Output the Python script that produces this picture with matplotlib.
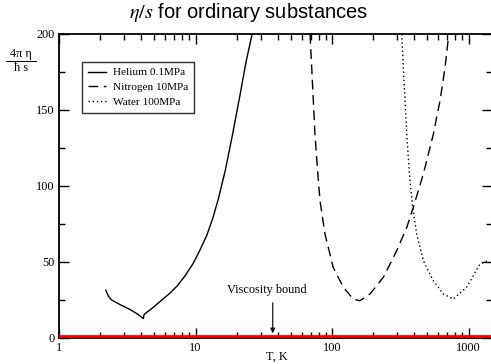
import numpy as np
import matplotlib.pyplot as plt
from matplotlib.lines import Line2D
from matplotlib.ticker import FixedLocator, MultipleLocator, NullFormatter

plt.rcParams['mathtext.fontset'] = 'stix'

# values
helium_T = [2.2, 2.3, 2.43, 2.8, 3.3, 3.8, 4.15, 4.2, 4.8, 5.5, 6.4, 7.3, 8.4, 9.6,
            10.8, 12.1, 13.4, 14.7, 16.5, 18.5, 21.0, 23.5, 26.0]
helium_r = [31.5, 27.5, 25, 22, 18.8, 15.5, 12.8, 15.5, 19.5, 24, 29, 34, 41, 49,
            58, 67.5, 79, 91.5, 110, 132, 158, 182, 200]

nitrogen_T = [69, 71, 73, 75, 78.1, 81.7, 88.8, 102, 121, 143, 160, 190, 238, 298,
              353, 394, 467, 552, 618, 673, 711]
nitrogen_r = [200, 178, 156, 134, 112, 90.3, 68.4, 46.5, 33.4, 25.6, 24.5, 29, 40, 57.5,
              72.8, 86, 108, 134, 156, 178, 197]

water_T = [324, 333, 343, 353, 369, 390, 417, 467, 552, 653, 774, 968, 1214, 1390]
water_r = [200, 178, 156, 134, 108, 86, 68.4, 50.9, 37.7, 29, 25.6, 33.4, 48.7, 51]

bound = 1.0

fig = plt.figure(figsize=(4.91, 3.64), dpi=100)
ax = fig.add_axes([59 / 491, 26 / 364, 433 / 491, 304 / 364])

serif = 'Liberation Serif'
fs = 8.8

ax.plot(helium_T, helium_r, color='black', lw=1.0, label='Helium 0.1MPa')
ax.plot(nitrogen_T, nitrogen_r, color='black', lw=1.0, dashes=(7, 4), label='Nitrogen 10MPa')
ax.plot(water_T, water_r, color='black', lw=1.0, linestyle=(0, (1, 2)), label='Water 100MPa')
ax.axhline(bound, color='red', lw=2.0, zorder=5)

ax.set_xscale('log')
ax.set_xlim(1, 1486)
ax.set_ylim(0, 200)

ax.xaxis.set_major_locator(FixedLocator([1, 10, 100, 1000]))
ax.set_xticklabels(['1', '10', '100', '1000'])
minors = [m * 10 ** e for e in range(0, 4) for m in range(2, 10)]
ax.xaxis.set_minor_locator(FixedLocator(minors))
ax.xaxis.set_minor_formatter(NullFormatter())
ax.yaxis.set_major_locator(MultipleLocator(50))
ax.yaxis.set_minor_locator(MultipleLocator(25))

ax.tick_params(which='both', direction='in', top=True, right=True, labelsize=fs, width=1.0)
ax.tick_params(which='major', length=7, pad=3)
ax.tick_params(which='minor', length=4)
for lab in ax.get_xticklabels() + ax.get_yticklabels():
    lab.set_fontfamily(serif)
for sp in ax.spines.values():
    sp.set_linewidth(1.3)

fig.text(277 / 491, 1 - 357 / 364, 'T, K', fontfamily=serif, fontsize=fs, ha='center', va='center')

leg = ax.legend(loc='upper left', bbox_to_anchor=(0.053, 0.908), prop={'family': serif, 'size': 8.1},
                frameon=True, fancybox=False, edgecolor='black', handlelength=1.6,
                borderpad=0.5, labelspacing=0.45, handletextpad=0.7, borderaxespad=0)
leg.get_frame().set_linewidth(1.0)

ax.text(33.4, 31.5, 'Viscosity bound', fontfamily=serif, fontsize=fs, ha='center', va='center')
ax.annotate('', xy=(36.8, 1.3), xytext=(36.8, 25),
            arrowprops=dict(arrowstyle='-|>', color='black', lw=0.8, mutation_scale=7))

# y label as a stacked fraction
fig.text(21 / 491, 1 - 54 / 364, '4π η', fontfamily=serif, fontsize=8.8, ha='center', va='center')
fig.text(21 / 491, 1 - 68 / 364, 'ħ s', fontfamily=serif, fontsize=8.8, ha='center', va='center')
fig.add_artist(Line2D([6 / 491, 36 / 491], [1 - 61 / 364, 1 - 61 / 364], color='black', lw=0.7))

fig.text(249 / 491, 1 - 13 / 364, r'$\eta/s$ for ordinary substances', fontsize=14.5,
         fontfamily='Liberation Sans', ha='center', va='center')

fig.savefig('out.png', dpi=100)
